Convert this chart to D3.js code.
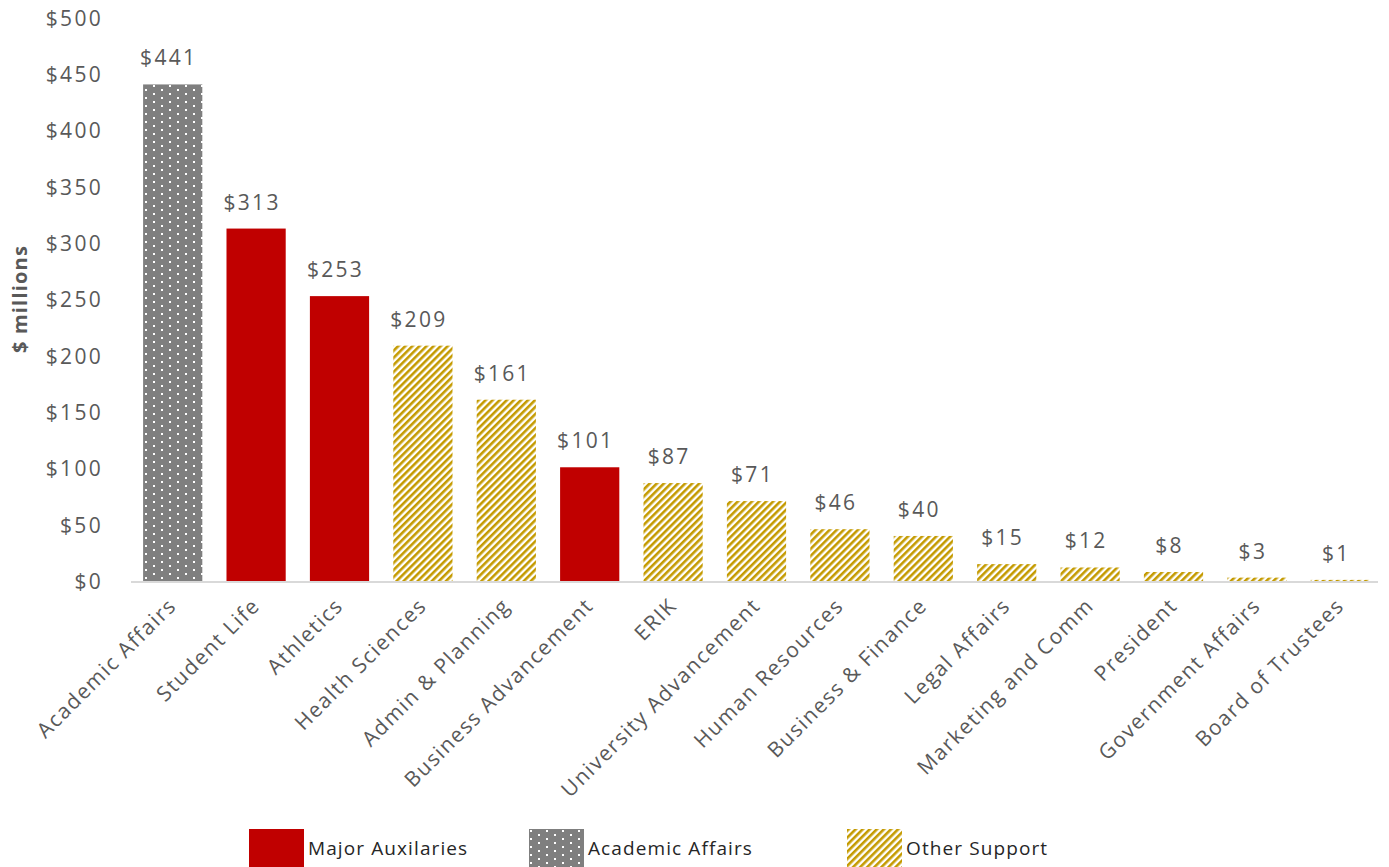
<!DOCTYPE html>
<html><head><meta charset="utf-8">
<script src="https://cdnjs.cloudflare.com/ajax/libs/d3/7.8.5/d3.min.js"></script>
<style>
body{margin:0;background:#fff;}
svg{display:block;font-family:"Open Sans",sans-serif;}
</style></head>
<body><svg id="c" width="1389" height="867"></svg>
<script>
const categories = ["Academic Affairs","Student Life","Athletics","Health Sciences","Admin & Planning","Business Advancement","ERIK","University Advancement","Human Resources","Business & Finance","Legal Affairs","Marketing and Comm","President","Government Affairs","Board of Trustees"];
const values = [441,313,253,209,161,101,87,71,46,40,15,12,8,3,1];
const groups = ["acad","major","major","other","other","major","other","other","other","other","other","other","other","other","other"];
const yTicks = [0,50,100,150,200,250,300,350,400,450,500];
const legendItems = [["major","Major Auxilaries"],["acad","Academic Affairs"],["other","Other Support"]];

const svg = d3.select("#c");
const defs = svg.append("defs");
// dotted pattern
const pd = defs.append("pattern").attr("id","dots").attr("patternUnits","userSpaceOnUse").attr("width",16).attr("height",8);
pd.append("rect").attr("width",16).attr("height",8).attr("fill","#7f7f7f");
pd.append("rect").attr("x",1).attr("y",1).attr("width",2).attr("height",2).attr("fill","#fff");
pd.append("rect").attr("x",9).attr("y",5).attr("width",2).attr("height",2).attr("fill","#fff");
// hatch pattern
const ph = defs.append("pattern").attr("id","hatch").attr("patternUnits","userSpaceOnUse").attr("width",5).attr("height",5).attr("patternTransform","rotate(45)");
ph.append("rect").attr("width",5).attr("height",5).attr("fill","#fff");
ph.append("rect").attr("width",2.6).attr("height",5).attr("fill","#c49a00");

const fills = {major:"#c00000", acad:"url(#dots)", other:"url(#hatch)"};

const x = d3.scaleBand().domain(categories).range([131,1382]).paddingInner(0.29).paddingOuter(0.145);
const y = d3.scaleLinear().domain([0,500]).range([581,18]);

// y axis
const ya = svg.append("g").attr("transform","translate(103,0)")
  .call(d3.axisLeft(y).tickValues(yTicks).tickSize(0).tickPadding(0).tickFormat(d=>"$"+d));
ya.select(".domain").remove();
ya.selectAll("text").attr("font-size",21).attr("fill","#595959").attr("font-family","Open Sans, sans-serif")
  .attr("letter-spacing","2.3px").attr("dy","0.35em");

svg.append("text").attr("transform","translate(27,299) rotate(-90)").attr("text-anchor","middle")
  .attr("font-size",20).attr("font-weight","bold").attr("letter-spacing","1.2px").attr("fill","#595959").text("$ millions");

// bars
svg.append("g").selectAll("rect").data(categories).join("rect")
  .attr("x",d=>x(d)).attr("width",x.bandwidth())
  .attr("y",(d,i)=>y(values[i])).attr("height",(d,i)=>y(0)-y(values[i]))
  .attr("fill",(d,i)=>fills[groups[i]]);

// baseline
svg.append("line").attr("x1",131).attr("x2",1378).attr("y1",y(0)+1).attr("y2",y(0)+1).attr("stroke","#d9d9d9").attr("stroke-width",2);

// data labels
svg.append("g").selectAll("text").data(categories).join("text")
  .attr("x",d=>x(d)+x.bandwidth()/2 - 4).attr("y",(d,i)=>y(values[i])-19)
  .attr("text-anchor","middle").attr("font-size",21).attr("letter-spacing","2.3px").attr("fill","#595959")
  .text((d,i)=>"$"+values[i]);

// x axis
const xa = svg.append("g").attr("transform",`translate(0,${y(0)})`)
  .call(d3.axisBottom(x).tickSize(0).tickPadding(0));
xa.select(".domain").remove();
xa.selectAll("text").attr("font-size",21).attr("fill","#595959").attr("font-family","Open Sans, sans-serif")
  .attr("letter-spacing","1.5px").attr("text-anchor","end").attr("dy",0)
  .attr("transform","translate(5,26) rotate(-45)");

// legend
const lx = [249,529,847];
const lg = svg.append("g").selectAll("g").data(legendItems).join("g")
  .attr("transform",(d,i)=>`translate(${lx[i]},829)`);
lg.append("rect").attr("width",55).attr("height",40).attr("fill",d=>fills[d[0]]);
lg.append("text").attr("x",59).attr("y",26).attr("font-size",19).attr("letter-spacing","1.1px").attr("fill","#262626").text(d=>d[1]);
</script></body></html>
